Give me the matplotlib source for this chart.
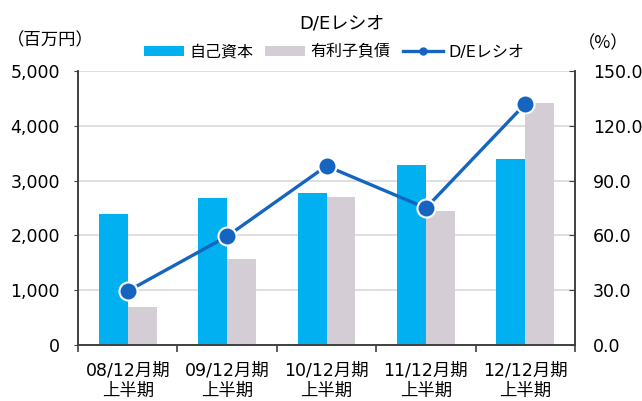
import matplotlib
matplotlib.use("Agg")
import matplotlib.pyplot as plt
from matplotlib.lines import Line2D
import numpy as np

plt.rcParams['font.family'] = ['DejaVu Sans', 'Noto Sans CJK JP']

categories = ["08/12月期\n上半期", "09/12月期\n上半期", "10/12月期\n上半期",
              "11/12月期\n上半期", "12/12月期\n上半期"]
equity = [2390, 2680, 2775, 3285, 3395]
debt = [695, 1570, 2700, 2445, 4415]
de_ratio = [29.5, 59.5, 98.0, 75.0, 132.0]

fig = plt.figure(figsize=(6.42, 4.01), dpi=100)
ax = fig.add_axes([78 / 642, 1 - 345 / 401, 497 / 642, 274 / 401])
ax2 = ax.twinx()

x = np.arange(len(categories))
w = 0.29
ax.bar(x - w / 2, equity, w, color='#00B0F0', label='自己資本', zorder=2)
ax.bar(x + w / 2, debt, w, color='#D5CDD6', label='有利子負債', zorder=2)

ax2.plot(x, de_ratio, color='#1565C0', lw=2.4, marker='o', ms=13,
         markeredgecolor='white', markeredgewidth=1.5, label='D/Eレシオ', zorder=3)

ax.set_xlim(-0.5, 4.5)
ax.set_ylim(0, 5000)
ax2.set_ylim(0, 150)
ax.set_yticks(np.arange(0, 5001, 1000))
ax2.set_yticks(np.arange(0, 151, 30))
ax.set_yticklabels([f"{v:,}" for v in range(0, 5001, 1000)], fontsize=12.5)
ax2.set_yticklabels([f"{v:.1f}" for v in range(0, 151, 30)], fontsize=12.5)
ax.grid(axis='y', color='#D9D9D9', lw=1.2, zorder=0)
ax.set_axisbelow(True)

ax.set_xticks(x)
ax.set_xticklabels(categories, fontsize=12.5, linespacing=1.15)
ax.tick_params(axis='x', length=0, pad=12)
ax.set_xticks(np.arange(-0.5, 5.0, 1.0), minor=True)
ax.tick_params(axis='x', which='minor', length=5, color='#404040', width=1.2)
ax.tick_params(axis='y', length=3, color='#404040', pad=10)
ax2.tick_params(axis='y', direction='in', length=4, color='#404040', pad=13)

for a in (ax, ax2):
    a.spines['top'].set_visible(False)
    for s in ('left', 'right', 'bottom'):
        a.spines[s].set_color('#404040')
        a.spines[s].set_linewidth(1.2)

fig.text(342 / 642, 1 - 23 / 401, "D/Eレシオ", ha='center', va='center', fontsize=13)
fig.text(0.010, 1 - 40 / 401, "（百万円）", ha='left', va='center', fontsize=12.5,
         family=['Noto Sans CJK JP'])
fig.text(578 / 642, 1 - 43 / 401, "（%）", ha='left', va='center', fontsize=12.5,
         family=['Noto Sans CJK JP'])

h1, l1 = ax.get_legend_handles_labels()
h2, l2 = ax2.get_legend_handles_labels()
line_h = Line2D([], [], color='#1565C0', lw=2.4, marker='o', ms=5)
fig.legend(h1 + [line_h], l1 + l2, loc='center', bbox_to_anchor=(334 / 642, 1 - 52 / 401),
           ncol=3, frameon=False, handlelength=2.5, handleheight=0.65,
           columnspacing=0.75, handletextpad=0.35,
           prop={'family': ['DejaVu Sans', 'Noto Sans CJK JP'], 'size': 11.5})

fig.savefig("out.png", dpi=100)
